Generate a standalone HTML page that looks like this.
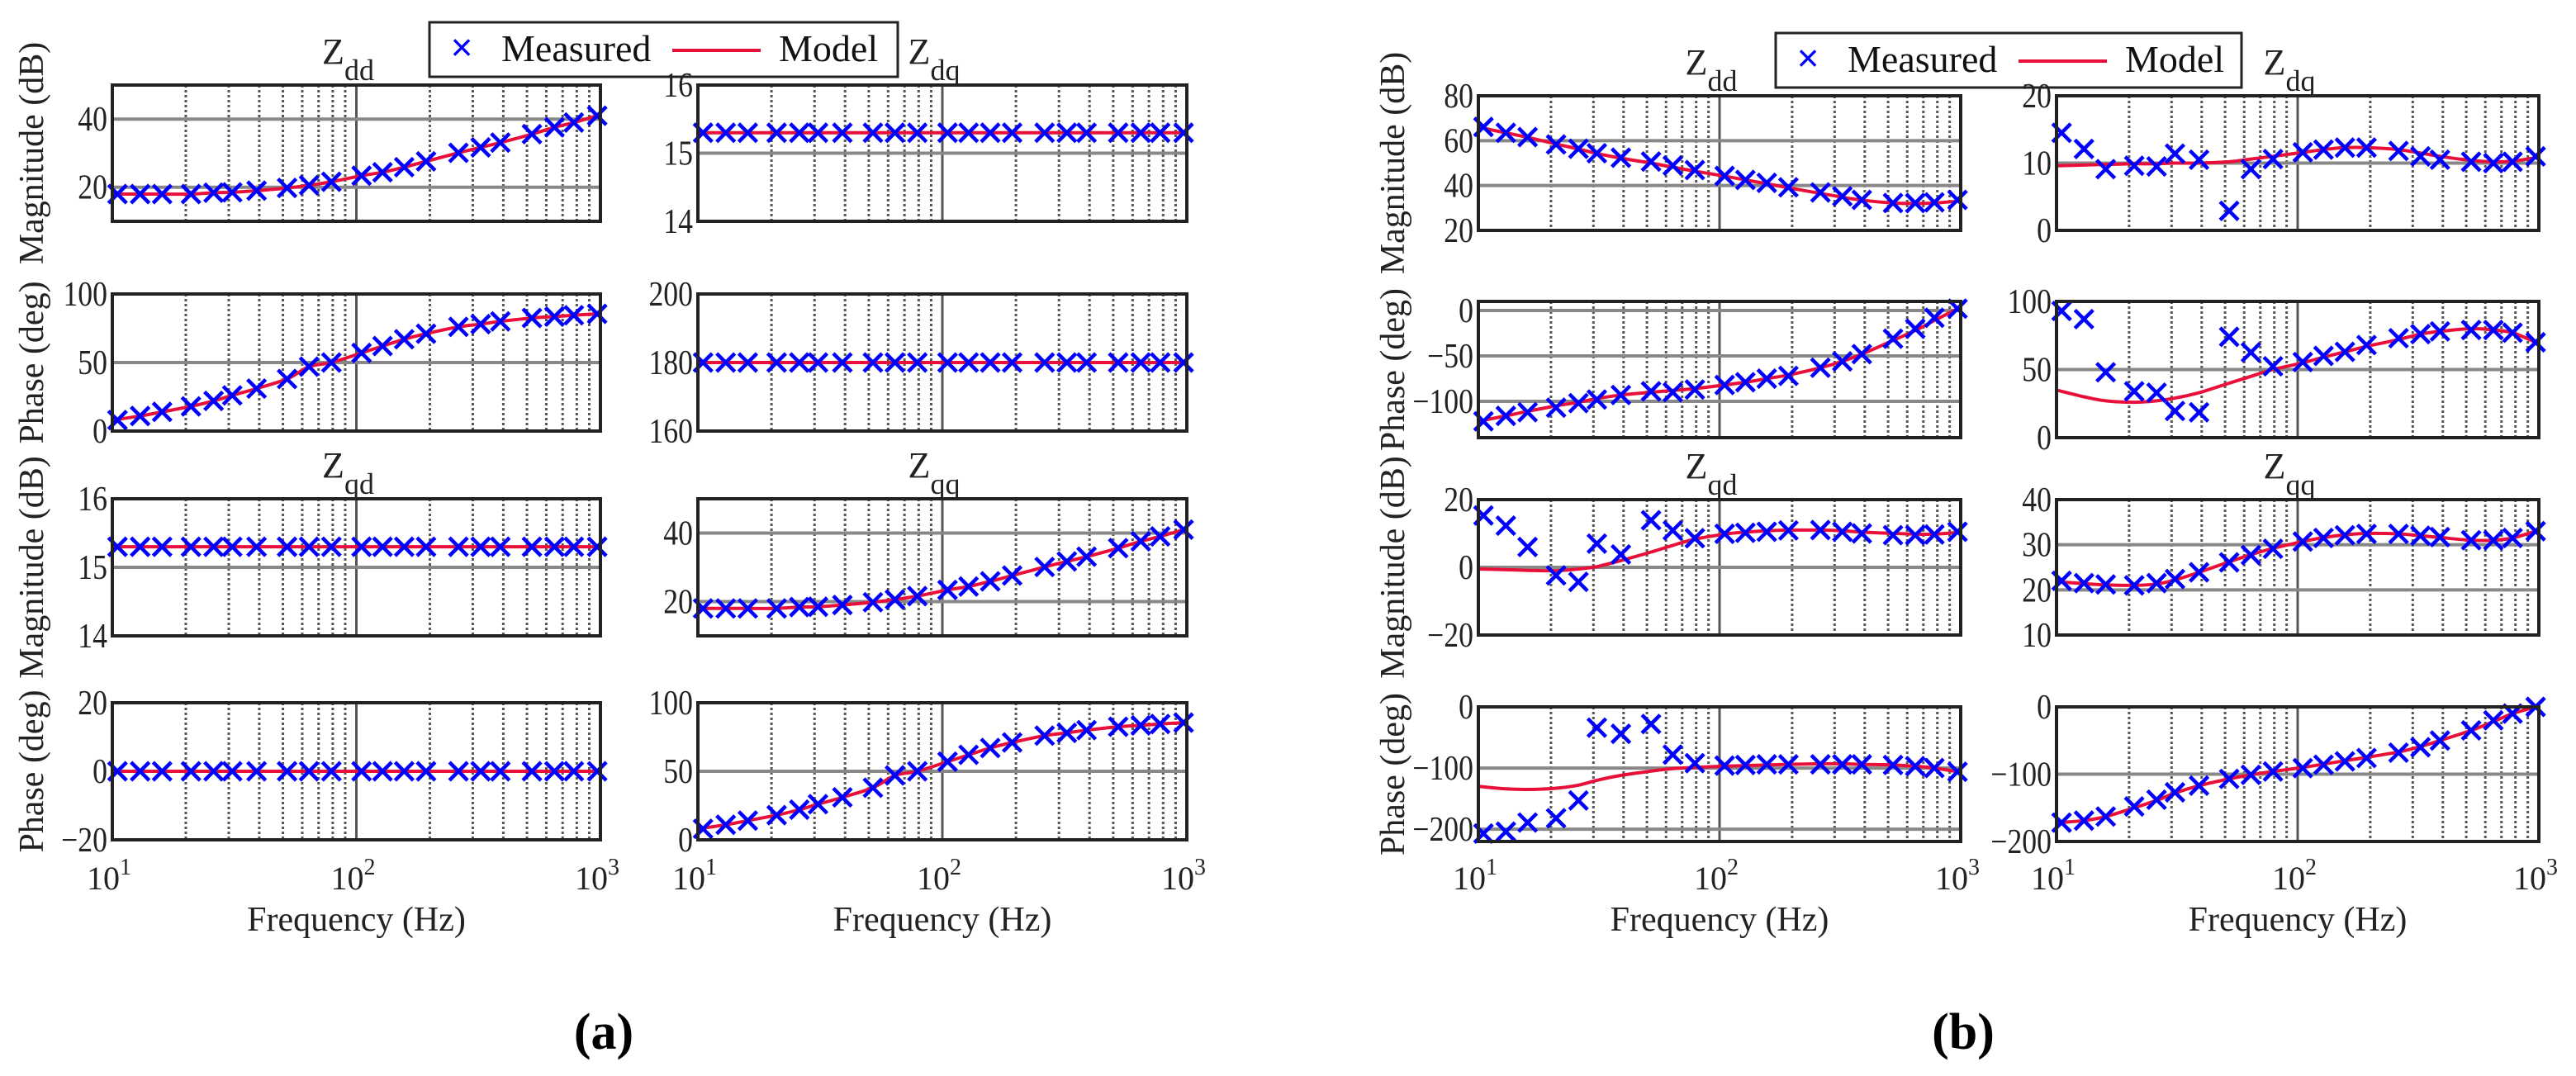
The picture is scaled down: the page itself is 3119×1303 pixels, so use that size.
<!DOCTYPE html>
<html><head><meta charset="utf-8">
<style>
html,body{margin:0;padding:0;background:#fff;}
svg{display:block;font-family:"Liberation Serif","Times New Roman",serif;}
</style></head>
<body>
<svg id="fig" width="3119" height="1303" viewBox="0 0 3119 1303" xmlns="http://www.w3.org/2000/svg">
  <rect x="0" y="0" width="3119" height="1303" fill="#fff"/>
  <g>
    <rect x="520" y="27" width="567" height="66" fill="#fff" stroke="#222" stroke-width="3"/>
    <text x="559" y="73" font-size="46" fill="#00f" text-anchor="middle" font-family="Liberation Sans, sans-serif">×</text>
    <text x="607" y="74" font-size="46" fill="#111">Measured</text>
    <line x1="814" y1="61" x2="921" y2="61" stroke="#e8103a" stroke-width="4"/>
    <text x="943" y="74" font-size="46" fill="#111">Model</text>
  </g>
  <g>
    <rect x="2150" y="40" width="564" height="66" fill="#fff" stroke="#222" stroke-width="3"/>
    <text x="2189" y="86" font-size="46" fill="#00f" text-anchor="middle" font-family="Liberation Sans, sans-serif">×</text>
    <text x="2237" y="87" font-size="46" fill="#111">Measured</text>
    <line x1="2444" y1="74" x2="2551" y2="74" stroke="#e8103a" stroke-width="4"/>
    <text x="2573" y="87" font-size="46" fill="#111">Model</text>
  </g>
  <text x="731" y="1270" font-size="62" font-weight="bold" text-anchor="middle" fill="#000">(a)</text>
  <text x="2377" y="1270" font-size="62" font-weight="bold" text-anchor="middle" fill="#000">(b)</text>
</svg>
<script>
const freqs = [10.5,13,16,21,26,31,39,52,64,79,105,128,157,193,262,323,389,524,648,778,970];
const xTickLabels = ["1","2","3"];

const aDdMag = [18,18,18,18,18.4,18.5,19,19.8,20.6,21.6,23.4,24.4,25.9,27.6,30.1,31.7,33.1,35.6,37.6,39,41];
const aDdPh  = [8,11,14,18,22,26,31,38,47,50,57,62,67,71,76,78,80,82.5,83.5,84.5,85.5];
const aDqMag = [15.3,15.3,15.3,15.3,15.3,15.3,15.3,15.3,15.3,15.3,15.3,15.3,15.3,15.3,15.3,15.3,15.3,15.3,15.3,15.3,15.3];
const aDqPh  = [180,180,180,180,180,180,180,180,180,180,180,180,180,180,180,180,180,180,180,180,180];
const aQdMag = [15.3,15.3,15.3,15.3,15.3,15.3,15.3,15.3,15.3,15.3,15.3,15.3,15.3,15.3,15.3,15.3,15.3,15.3,15.3,15.3,15.3];
const aQdPh  = [0,0,0,0,0,0,0,0,0,0,0,0,0,0,0,0,0,0,0,0,0];
const aQqMag = [18,18,18,18,18.4,18.5,19,19.8,20.6,21.6,23.4,24.4,25.9,27.6,30.1,31.7,33.1,35.6,37.6,39,41];
const aQqPh  = [8,11,14,18,22,26,31,38,47,50,57,62,67,71,76,78,80,82.5,83.5,84.5,85.5];

const bDdMag = [66.1,63.5,61.6,58.3,56.4,54.4,52.4,50.7,48.9,46.9,44.3,42.5,41.2,39.2,36.9,35.2,33.6,32.2,32.2,32.5,33.6];
const bDdPh  = [-122,-116,-112,-107,-102,-98,-93,-89,-90,-87,-82,-79,-75,-72,-63,-56,-48,-31,-20,-8,2];
const bDqMag = [14.5,12.1,9.1,9.6,9.5,11.4,10.5,2.9,9.1,10.6,11.6,12,12.3,12.3,11.8,11,10.5,10.2,10,10.2,11];
const bDqPh  = [93,87,48,34,33,19.6,18.6,74,62.6,52.4,55.5,60,63,68,73,76,78,79,79,77,70];
const bQdMag = [15.3,12.3,6,-2.4,-4.3,7,3.8,13.9,10.9,8.6,9.9,10.2,10.5,10.9,11,10.5,10,9.5,9.5,9.7,10.5];
const bQdPh  = [-207,-204,-189,-182,-153,-34,-44,-28,-78,-92,-96,-95,-94,-94,-94,-94,-94,-95,-97,-100,-106];
const bQqMag = [22,21.5,21.2,21,21.5,22.4,23.9,26.1,27.7,29.1,30.7,31.5,32.1,32.4,32.4,32,31.7,31,31,31.5,33];
const bQqPh  = [-172,-169,-163,-148,-138,-127,-117,-107,-101,-96,-91,-86,-81,-76,-68,-60,-50,-35,-20,-10,0];

const bDdMagModel = [66,63.5,61.5,58.5,56.3,54.3,52.2,50,48.2,46.4,44.2,42.5,40.8,39,36.5,34.8,33.5,32.2,32,32.2,33];
const bDdPhModel  = [-122,-116,-111,-105,-101,-97,-93,-90,-88,-86,-82,-79,-75,-71,-63,-56,-48,-33,-22,-11,2];
const bDqMagModel = [9.6,9.7,9.8,9.9,9.9,10,10,10.2,10.6,11,11.6,12,12.3,12.3,12,11.5,11,10.4,10.2,10.3,10.8];
const bDqPhModel  = [35,30,27,26,27,29,33,40,45,50,55,59,63,67,72,76,78,80,79,77,70];
const bQdMagModel = [-0.5,-0.7,-0.9,-1,-0.5,0.2,2,4.5,6.5,8.3,9.8,10.4,10.8,11,11,10.8,10.4,10,9.8,9.8,10.3];
const bQdPhModel  = [-130,-134,-135,-133,-128,-120,-112,-105,-101,-99,-97,-96,-95,-94,-93,-93,-94,-95,-97,-100,-106];
const bQqMagModel = [21.8,21.4,21.1,21,21.3,22.2,23.9,26.2,27.8,29.2,30.7,31.6,32.2,32.5,32.4,32,31.6,31,31,31.5,33];
const bQqPhModel  = [-172,-169,-163,-150,-139,-128,-117,-107,-101,-96,-90,-85,-80,-75,-67,-59,-50,-35,-22,-10,0];

const ticksMagDd = [20,40];
const ticksPh100 = [0,50,100];
const ticks1416 = [14,15,16];
const ticks160 = [160,180,200];
const ticksPm20 = [-20,0,20];
const ticksB80 = [20,40,60,80];
const ticksBDdPh = [-100,-50,0];
const ticksB20 = [0,10,20];
const ticksBQqMag = [10,20,30,40];
const ticksBQdPh = [-200,-100,0];
const ticksBQqPh = [-200,-100,0];

const NS = "http://www.w3.org/2000/svg";
const svg = document.getElementById("fig");
function mk(tag, attrs, parent){ const e=document.createElementNS(NS,tag); for(const k in attrs) e.setAttribute(k,attrs[k]); (parent||svg).appendChild(e); return e; }

const L = {c1:[136,727], c2:[845,1437], rows:[[103,268],[356,522],[604,770],[851,1017]]};
const R = {c1:[1790,2374], c2:[2490,3074], rows:[[116,279],[365,530],[605,769],[856,1019]]};

function spline(pts){
  let d="M"+pts[0][0].toFixed(1)+","+pts[0][1].toFixed(1);
  for(let i=0;i<pts.length-1;i++){
    const p0=pts[Math.max(0,i-1)], p1=pts[i], p2=pts[i+1], p3=pts[Math.min(pts.length-1,i+2)];
    const c1=[p1[0]+(p2[0]-p0[0])/6, p1[1]+(p2[1]-p0[1])/6];
    const c2=[p2[0]-(p3[0]-p1[0])/6, p2[1]-(p3[1]-p1[1])/6];
    d+=" C"+c1[0].toFixed(1)+","+c1[1].toFixed(1)+" "+c2[0].toFixed(1)+","+c2[1].toFixed(1)+" "+p2[0].toFixed(1)+","+p2[1].toFixed(1);
  }
  return d;
}

function panel(name, cols, rows, ymin, ymax, ticks, meas, model, opts){
  const [x0,x1]=cols, [y0,y1]=rows;
  const g=mk("g",{});
  
  
  const xs = f => x0 + (Math.log10(f)-1)/2*(x1-x0);
  const ys = v => y1 - (v-ymin)/(ymax-ymin)*(y1-y0);
  for(const dec of [10,100]) for(let m=2;m<=9;m++){
    const x=xs(dec*m);
    const l=mk("line",{x1:x,y1:y0,x2:x,y2:y1,stroke:"#555","stroke-width":3,"stroke-dasharray":"3,3"},g);
    
    
  }
  const xm=xs(100);
  const vm=mk("line",{x1:xm,y1:y0,x2:xm,y2:y1,stroke:"#555","stroke-width":3},g);
  
  
  for(const t of ticks){
    const y=ys(t);
    if(Math.abs(y-y0)>2 && Math.abs(y-y1)>2){
      const h=mk("line",{x1:x0,y1:y,x2:x1,y2:y,stroke:"#888","stroke-width":4},g);
      
      
    }
    const tl=mk("text",{x:x0-6,y:y+14,"font-size":42,"text-anchor":"end",fill:"#222",transform:`translate(${x0-6} 0) scale(0.85 1) translate(${-(x0-6)} 0)`},g);
    
    
    tl.textContent=String(t).replace("-","\u2212");
  }
  const pts = model.map((v,i)=>[xs(freqs[i]), ys(v)]);
  pts[0][0]=x0;
  const p=mk("path",{d:spline(pts),fill:"none",stroke:"#e8103a","stroke-width":4},g);
  
  
  meas.forEach((v,i)=>{
    const x=xs(freqs[i]), y=ys(v), s=11;
    const m=mk("path",{d:`M${x-s},${y-s}L${x+s},${y+s}M${x-s},${y+s}L${x+s},${y-s}`,stroke:"#0000ff","stroke-width":4.5,fill:"none"},g);
    
    
  });
  const fr=mk("rect",{x:x0,y:y0,width:x1-x0,height:y1-y0,fill:"none",stroke:"#222","stroke-width":4},g);
  
  
  if(opts && opts.xticks){
    [10,100,1000].forEach((f,i)=>{
      const t=mk("text",{x:xs(f)-4,y:1077,"font-size":40,"text-anchor":"middle",fill:"#222"},g);
      
      
      t.textContent="10";
      const sup=mk("tspan",{dy:-18,"font-size":28},t);
      sup.textContent=xTickLabels[i];
    });
    const xl=mk("text",{x:(x0+x1)/2,y:1127,"font-size":42,"text-anchor":"middle",fill:"#222"},g);
    
    
    xl.textContent="Frequency (Hz)";
  }
  if(opts && opts.title){
    const t=mk("text",{x:(x0+x1)/2-10,y:y0-26,"font-size":44,"text-anchor":"middle",fill:"#222"},g);
    
    
    t.textContent="Z";
    const sub=mk("tspan",{dy:20,"font-size":36},t);
    sub.textContent=opts.title;
  }
  if(opts && opts.ylabel){
    const cx=opts.ylx, cy=(y0+y1)/2;
    const t=mk("text",{x:cx,y:cy,"font-size":42,"text-anchor":"middle",fill:"#222",transform:`rotate(-90 ${cx} ${cy})`},g);
    
    
    t.textContent=opts.ylabel;
  }
}

panel("panel-a-zdd-magnitude",L.c1,L.rows[0],10,50,ticksMagDd,aDdMag,aDdMag,{title:"dd",ylabel:"Magnitude (dB)",ylx:52});
panel("panel-a-zdd-phase",L.c1,L.rows[1],0,100,ticksPh100,aDdPh,aDdPh,{ylabel:"Phase (deg)",ylx:52});
panel("panel-a-zqd-magnitude",L.c1,L.rows[2],14,16,ticks1416,aQdMag,aQdMag,{title:"qd",ylabel:"Magnitude (dB)",ylx:52});
panel("panel-a-zqd-phase",L.c1,L.rows[3],-20,20,ticksPm20,aQdPh,aQdPh,{ylabel:"Phase (deg)",ylx:52,xticks:true});
panel("panel-a-zdq-magnitude",L.c2,L.rows[0],14,16,ticks1416,aDqMag,aDqMag,{title:"dq"});
panel("panel-a-zdq-phase",L.c2,L.rows[1],160,200,ticks160,aDqPh,aDqPh,{});
panel("panel-a-zqq-magnitude",L.c2,L.rows[2],10,50,ticksMagDd,aQqMag,aQqMag,{title:"qq"});
panel("panel-a-zqq-phase",L.c2,L.rows[3],0,100,ticksPh100,aQqPh,aQqPh,{xticks:true});
panel("panel-b-zdd-magnitude",R.c1,R.rows[0],20,80,ticksB80,bDdMag,bDdMagModel,{title:"dd",ylabel:"Magnitude (dB)",ylx:1700});
panel("panel-b-zdd-phase",R.c1,R.rows[1],-140,10,ticksBDdPh,bDdPh,bDdPhModel,{ylabel:"Phase (deg)",ylx:1700});
panel("panel-b-zqd-magnitude",R.c1,R.rows[2],-20,20,ticksPm20,bQdMag,bQdMagModel,{title:"qd",ylabel:"Magnitude (dB)",ylx:1700});
panel("panel-b-zqd-phase",R.c1,R.rows[3],-220,0,ticksBQdPh,bQdPh,bQdPhModel,{ylabel:"Phase (deg)",ylx:1700,xticks:true});
panel("panel-b-zdq-magnitude",R.c2,R.rows[0],0,20,ticksB20,bDqMag,bDqMagModel,{title:"dq"});
panel("panel-b-zdq-phase",R.c2,R.rows[1],0,100,ticksPh100,bDqPh,bDqPhModel,{});
panel("panel-b-zqq-magnitude",R.c2,R.rows[2],10,40,ticksBQqMag,bQqMag,bQqMagModel,{title:"qq"});
panel("panel-b-zqq-phase",R.c2,R.rows[3],-200,0,ticksBQqPh,bQqPh,bQqPhModel,{xticks:true});
</script>
</body></html>
